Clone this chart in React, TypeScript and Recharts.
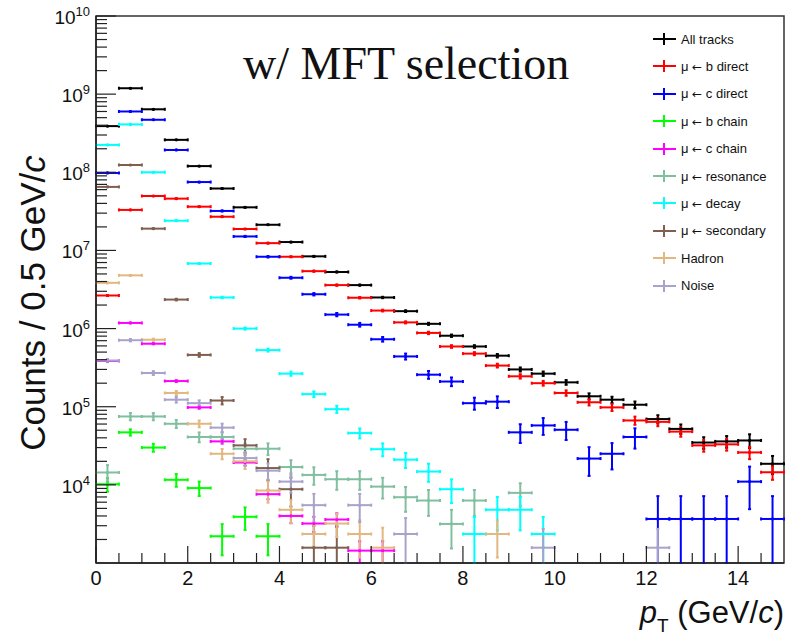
import React from 'react';
import { ScatterChart, Scatter, XAxis, YAxis, ErrorBar, ReferenceArea } from 'recharts';

// bin centres in pT (GeV/c), 0.5 GeV/c wide bins
const ptCenters = [
    0.25, 0.75, 1.25, 1.75, 2.25, 2.75, 3.25, 3.75, 4.25, 4.75,
    5.25, 5.75, 6.25, 6.75, 7.25, 7.75, 8.25, 8.75, 9.25, 9.75,
    10.25, 10.75, 11.25, 11.75, 12.25, 12.75, 13.25, 13.75, 14.25, 14.75,
];
const binHalfWidth = 0.25;
const yMin = 1e3;
const yMax = 1e10;

// counts per bin (null = empty bin)
const allTracks = [3.9e8, 1.19e9, 6.4e8, 2.6e8, 1.2e8, 6.2e7, 3.56e7, 2.13e7, 1.28e7, 8.4e6, 5.3e6, 3.6e6, 2.5e6, 1.67e6, 1.15e6, 8.1e5, 5.9e5, 4.5e5, 3.0e5, 2.65e5, 2.05e5, 1.36e5, 1.23e5, 1.06e5, 6.95e4, 5.2e4, 3.48e4, 3.6e4, 3.7e4, 1.86e4];
const bDirect = [2.65e6, 3.3e7, 4.97e7, 4.6e7, 3.63e7, 2.7e7, 1.88e7, 1.24e7, 8.3e6, 5.43e6, 3.6e6, 2.48e6, 1.7e6, 1.2e6, 8.8e5, 5.9e5, 4.78e5, 3.36e5, 2.45e5, 2.0e5, 1.5e5, 1.14e5, 9.8e4, 6.67e4, 6.4e4, 4.8e4, 3.2e4, 3.3e4, 2.6e4, 1.45e4];
const cDirect = [9.8e7, 6.0e8, 4.7e8, 1.93e8, 7.5e7, 3.2e7, 1.51e7, 8.3e6, 4.47e6, 2.75e6, 1.51e6, 1.12e6, 7.3e5, 4.4e5, 2.57e5, 2.1e5, 1.11e5, 1.16e5, 4.7e4, 5.76e4, 5.07e4, 2.17e4, 2.5e4, 4.1e4, 3.66e3, 3.66e3, 3.66e3, 3.66e3, 1.1e4, 3.66e3];
const bChain = [1.02e4, 4.7e4, 3.0e4, 1.16e4, 9.1e3, 2.2e3, 3.9e3, 2.2e3];
const cChain = [3.85e5, 1.18e6, 6.4e5, 2.13e5, 9.8e4, 3.6e4, 1.93e4, 7.6e3, 4.0e3, 3.2e3, 3.6e3, 1.44e3, 1.44e3];
const resonance = [1.44e4, 7.5e4, 7.5e4, 6.05e4, 4.1e4, 4.1e4, 2.9e4, 2.9e4, 1.69e4, 1.34e4, 1.18e4, 1.18e4, 9.5e3, 6.95e3, 6.3e3, 3.16e3, 6.3e3, null, 7.9e3];
const decay = [2.24e8, 4.1e8, 1.0e8, 2.4e7, 6.8e6, 2.5e6, 1.0e6, 5.3e5, 2.65e5, 1.45e5, 9.3e4, 4.6e4, 2.86e4, 2.1e4, 1.48e4, 8.8e3, 2.35e3, 4.8e3, 4.8e3, 2.35e3];
const secondary = [6.5e7, 1.24e8, 1.9e7, 2.35e6, 4.6e5, 1.2e5, 3.2e4, 1.64e4, 8.8e3, 1.57e3, 1.57e3];
const hadron = [3.85e6, 4.8e6, 7.2e5, 1.5e5, 6.05e4, 2.5e4, 2.0e4, 8.45e3, 4.8e3, 2.35e3, 3.2e3, 2.35e3, 1.57e3, null, null, null, null, 2.35e3];
const noise = [3.9e5, 7.1e5, 2.7e5, 1.23e5, 1.11e5, 5.4e4, 2.2e4, 1.52e4, 1.1e4, 5.5e3, null, 5.5e3, null, 2.35e3, null, null, null, null, null, 1.57e3, null, null, null, null, 1.57e3];

// relative statistical errors per bin (fraction of the bin content)
const allTracksErr = [0.003, 0.002, 0.002, 0.003, 0.004, 0.005, 0.006, 0.007, 0.008, 0.01, 0.012, 0.015, 0.02, 0.025, 0.03, 0.035, 0.04, 0.05, 0.06, 0.065, 0.07, 0.09, 0.09, 0.1, 0.12, 0.14, 0.17, 0.17, 0.2, 0.26];
const bDirectErr = [0.01, 0.005, 0.005, 0.005, 0.006, 0.007, 0.008, 0.01, 0.012, 0.015, 0.018, 0.02, 0.025, 0.03, 0.035, 0.04, 0.045, 0.055, 0.065, 0.07, 0.08, 0.09, 0.1, 0.12, 0.12, 0.14, 0.17, 0.17, 0.18, 0.2];
const cDirectErr = [0.006, 0.003, 0.003, 0.005, 0.007, 0.011, 0.015, 0.02, 0.027, 0.035, 0.048, 0.055, 0.068, 0.088, 0.115, 0.127, 0.175, 0.17, 0.27, 0.243, 0.26, 0.4, 0.37, 0.29, 0.96, 0.96, 0.96, 0.96, 0.556, 0.96];
const bChainErr = [0.198, 0.092, 0.115, 0.186, 0.21, 0.43, 0.32, 0.43];
const cChainErr = [0.02, 0.011, 0.015, 0.027, 0.039, 0.065, 0.088, 0.14, 0.19, 0.22, 0.2, 0.32, 0.32];
const resonanceErr = [0.243, 0.106, 0.106, 0.119, 0.144, 0.144, 0.171, 0.171, 0.224, 0.252, 0.268, 0.268, 0.296, 0.35, 0.364, 0.515, 0.364, 0, 0.326];
const decayErr = [0.002, 0.0016, 0.003, 0.006, 0.012, 0.02, 0.032, 0.043, 0.061, 0.083, 0.104, 0.147, 0.187, 0.218, 0.26, 0.337, 0.65, 0.456, 0.456, 0.65];
const secondaryErr = [0.005, 0.003, 0.009, 0.024, 0.055, 0.108, 0.2, 0.3, 0.4, 0.9, 0.9];
const hadronErr = [0.01, 0.01, 0.03, 0.06, 0.1, 0.15, 0.2, 0.3, 0.33, 0.3, 0.33, 0.5, 0.8, 0, 0, 0, 0, 0.5];
const noiseErr = [0.047, 0.035, 0.056, 0.083, 0.086, 0.124, 0.2, 0.236, 0.278, 0.393, 0, 0.393, 0, 0.6, 0, 0, 0, 0, 0, 0.74, 0, 0, 0, 0, 0.74];

const seriesList = [
    { name: 'All tracks', values: allTracks, errors: allTracksErr, color: '#000000' },
    { name: 'μ ← b direct', values: bDirect, errors: bDirectErr, color: '#ff0000' },
    { name: 'μ ← c direct', values: cDirect, errors: cDirectErr, color: '#0000ff' },
    { name: 'μ ← b chain', values: bChain, errors: bChainErr, color: '#00ff00' },
    { name: 'μ ← c chain', values: cChain, errors: cChainErr, color: '#ff00ff' },
    { name: 'μ ← resonance', values: resonance, errors: resonanceErr, color: '#80bf9f' },
    { name: 'μ ← decay', values: decay, errors: decayErr, color: '#00ffff' },
    { name: 'μ ← secondary', values: secondary, errors: secondaryErr, color: '#7f5f4f' },
    { name: 'Hadron', values: hadron, errors: hadronErr, color: '#e2b880' },
    { name: 'Noise', values: noise, errors: noiseErr, color: '#a8a3cb' },
];

const xTicks = [0, 0.5, 1, 1.5, 2, 2.5, 3, 3.5, 4, 4.5, 5, 5.5, 6, 6.5, 7, 7.5, 8, 8.5, 9, 9.5, 10, 10.5, 11, 11.5, 12, 12.5, 13, 13.5, 14, 14.5];
const xLabels = [0, 2, 4, 6, 8, 10, 12, 14];
const yDecades = [1e3, 1e4, 1e5, 1e6, 1e7, 1e8, 1e9, 1e10];
const yMinorSteps = [2, 3, 4, 5, 6, 7, 8, 9];
const yTicks = yDecades.flatMap((d, i) =>
    i === yDecades.length - 1 ? [d] : [d, ...yMinorSteps.map(m => d * m)]
).filter(v => v > yMin);

// error bars that would run below the axis stop at the frame, as in ROOT
const buildRows = (values: (number | null)[], errors: number[]) =>
    ptCenters
        .map((x, i) => {
            const y = values[i];
            if (y == null) return null;
            const e = y * (errors[i] || 0);
            return { x, y, xe: binHalfWidth, ye: [Math.min(e, y - yMin), e] };
        })
        .filter(r => r !== null);

const XTick = (props: any) => {
    const { x, y, payload } = props;
    const major = xLabels.includes(payload.value);
    return (
        <g>
            <line x1={x} x2={x} y1={y} y2={y - (major ? 17 : 10)} stroke="#222" strokeWidth={1.2} />
            {major && (
                <text x={x} y={y + 22} textAnchor="middle" fontSize={20} fill="#111">
                    {payload.value}
                </text>
            )}
        </g>
    );
};

const YTick = (props: any) => {
    const { x, y, payload } = props;
    const v = payload.value;
    const exp = Math.round(Math.log10(v));
    const major = Math.abs(v - Math.pow(10, exp)) < 1e-6 * v;
    return (
        <g>
            <line x1={x} x2={x + (major ? 20 : 11)} y1={y} y2={y} stroke="#222" strokeWidth={1.2} />
            {major && (
                <text x={x - 6} y={y + 8} textAnchor="end" fontSize={19} fill="#111">
                    10<tspan dy={-8} fontSize={13}>{exp}</tspan>
                </text>
            )}
        </g>
    );
};

const LegendCross = ({ color }: { color: string }) => (
    <svg width={28} height={16} style={{ display: 'block' }}>
        <line x1={3} x2={26} y1={8} y2={8} stroke={color} strokeWidth={2} />
        <line x1={14} x2={14} y1={2} y2={14} stroke={color} strokeWidth={2} />
    </svg>
);

// the arrow glyph is tiny in Liberation Sans, DejaVu draws it closer to the original
const LegendLabel = ({ text }: { text: string }) => {
    const parts = text.split('←');
    if (parts.length === 1) return <>{text}</>;
    return (
        <>
            {parts[0]}
            <span style={{ fontFamily: '"DejaVu Sans", sans-serif', fontSize: 12 }}>←</span>
            {parts[1]}
        </>
    );
};

const App: React.FC = () => {
    return (
        <div style={{ position: 'relative', width: 787, height: 638, background: '#fff', fontFamily: '"Liberation Sans", Arial, sans-serif' }}>
            <style>{'body{margin:0}'}</style>
            <ScatterChart width={787} height={638} margin={{ top: 16, right: 3, bottom: 0, left: 0 }}>
                <XAxis
                    dataKey="x"
                    type="number"
                    domain={[0, 15]}
                    ticks={xTicks}
                    interval={0}
                    tick={<XTick />}
                    tickLine={false}
                    tickSize={0}
                    tickMargin={0}
                    height={75}
                    axisLine={{ stroke: '#222', strokeWidth: 1.5 }}
                    allowDataOverflow
                />
                <YAxis
                    dataKey="y"
                    type="number"
                    scale="log"
                    domain={[yMin, yMax]}
                    ticks={yTicks}
                    interval={0}
                    tick={<YTick />}
                    tickLine={false}
                    tickSize={0}
                    tickMargin={0}
                    width={96}
                    axisLine={{ stroke: '#222', strokeWidth: 1.5 }}
                    allowDataOverflow
                />
                <ReferenceArea x1={0} x2={15} y1={yMin} y2={yMax} fill="none" stroke="#333" strokeWidth={1.5} />
                {seriesList.map(s => (
                    <Scatter
                        key={s.name}
                        name={s.name}
                        data={buildRows(s.values, s.errors)}
                        fill={s.color}
                        isAnimationActive={false}
                        shape={(p: any) => <circle cx={p.cx} cy={p.cy} r={1.6} fill={s.color} />}
                    >
                        <ErrorBar dataKey="xe" direction="x" stroke={s.color} strokeWidth={2} width={1.5} isAnimationActive={false} />
                        <ErrorBar dataKey="ye" direction="y" stroke={s.color} strokeWidth={2} width={1.5} isAnimationActive={false} />
                    </Scatter>
                ))}
            </ScatterChart>

            <div style={{ position: 'absolute', left: 243, top: 41, fontFamily: '"Liberation Serif", "Times New Roman", serif', fontSize: 46, lineHeight: '46px', color: '#111', whiteSpace: 'nowrap' }}>
                w/ MFT selection
            </div>

            <div style={{ position: 'absolute', left: 650, top: 0 }}>
                {seriesList.map((s, i) => (
                    <div key={s.name} style={{ position: 'absolute', top: 31 + i * 27.4, left: 0, display: 'flex', alignItems: 'center', whiteSpace: 'nowrap' }}>
                        <LegendCross color={s.color} />
                        <span style={{ marginLeft: 3, fontSize: 13, color: '#111' }}>
                            <LegendLabel text={s.name} />
                        </span>
                    </div>
                ))}
            </div>

            <div style={{ position: 'absolute', left: 33, top: 303, transform: 'translate(-50%, -50%) rotate(-90deg)', fontSize: 35, whiteSpace: 'nowrap', color: '#111' }}>
                Counts / 0.5 GeV/<i>c</i>
            </div>

            <div style={{ position: 'absolute', right: 3, top: 597, fontSize: 31, lineHeight: '31px', whiteSpace: 'nowrap', color: '#111' }}>
                <i>p</i><span style={{ fontSize: 19, position: 'relative', top: 9 }}>T</span> (GeV/<i>c</i>)
            </div>
        </div>
    );
};

export default App;
